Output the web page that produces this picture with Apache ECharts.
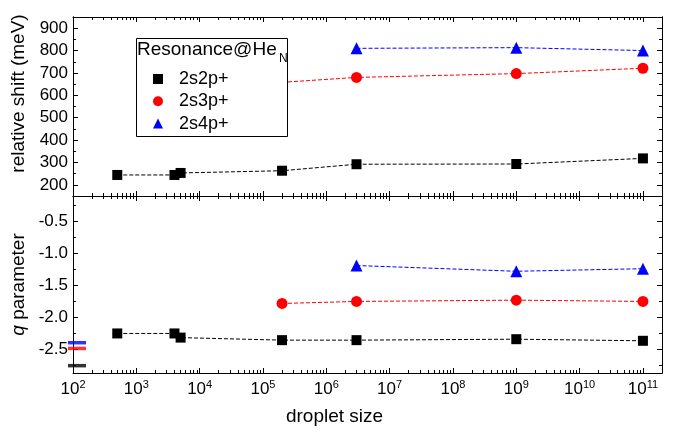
<!DOCTYPE html>
<html>
<head>
<meta charset="utf-8">
<script src="https://cdn.jsdelivr.net/npm/echarts@6/dist/echarts.min.js"></script>
<style>
  html, body { margin: 0; padding: 0; background: #fff; }
  #chart { width: 679px; height: 435px; }
</style>
</head>
<body>
<div id="chart"></div>
<script>
// droplet sizes and values
var sizes2p = [500, 4000, 5000, 2e5, 3e6, 1e9, 1e11]
var shift2p = [244, 244, 253, 263, 292, 293, 318]
var q2p = [-2.255, -2.255, -2.32, -2.36, -2.36, -2.345, -2.37]

var sizes3p = [2e5, 3e6, 1e9, 1e11]
var shift3p = [658, 680, 697, 721]
var q3p = [-1.785, -1.753, -1.733, -1.753]

var sizes4p = [3e6, 1e9, 1e11]
var shift4p = [810, 813, 800]
var q4p = [-1.19, -1.28, -1.24]

// atomic values, drawn as bars on the left edge (2s4p+, 2s3p+, 2s2p+)
var atomQ = [-2.40, -2.49, -2.76]

var names = ['2s2p+', '2s3p+', '2s4p+']
var colors = ['#000000', '#ff0000', '#0000ff']

// axis ticks
var xMin = 100
var xMax = 2e11
var shiftTicks = [200, 300, 400, 500, 600, 700, 800, 900]
var qTicks = [-2.5, -2.0, -1.5, -1.0, -0.5]

var font = 'Liberation Sans, Arial, sans-serif'

function pairs(xs, ys) {
  return xs.map(function(x, i) { return [x, ys[i]] })
}

// log-spaced minor ticks 2..9 x 10^n, in log10 units
var xMinor = []
for (var n = 2; n <= 11; n++) {
  for (var k = 2; k <= 9; k++) {
    var v = k * Math.pow(10, n)
    if (v < xMax) xMinor.push(Math.log10(v))
  }
}

function xMajor(grid, pos, labels) {
  var ax = {
    type: 'log', logBase: 10, gridIndex: grid, position: pos, min: xMin, max: xMax,
    axisLine: { show: true, onZero: false, lineStyle: { color: '#000', width: 1 } },
    axisTick: { show: true, inside: true, length: 5, lineStyle: { color: '#000' } },
    axisLabel: { show: false },
    splitLine: { show: false }
  }
  if (labels) {
    ax.axisLabel = {
      show: true, margin: 6, color: '#000', fontFamily: font, fontSize: 17,
      showMaxLabel: false,
      formatter: function(v) {
        return '10{sup|' + Math.round(Math.log10(v)) + '}'
      },
      rich: { sup: { fontSize: 11, fontFamily: font, color: '#000', padding: [0, 0, 9, 0] } }
    }
  }
  return ax
}

function xMinorAxis(grid, pos) {
  return {
    type: 'value', gridIndex: grid, position: pos, min: Math.log10(xMin), max: Math.log10(xMax),
    axisLine: { show: false, onZero: false },
    axisTick: { show: true, inside: true, length: 3, customValues: xMinor, lineStyle: { color: '#000' } },
    axisLabel: { show: false },
    splitLine: { show: false }
  }
}

function yAxisOf(grid, pos, min, max, ticks, len, labels, digits) {
  var ax = {
    type: 'value', gridIndex: grid, position: pos, min: min, max: max,
    axisLine: { show: true, onZero: false, lineStyle: { color: '#000', width: 1 } },
    axisTick: { show: true, inside: true, length: len, customValues: ticks, lineStyle: { color: '#000' } },
    axisLabel: { show: false },
    splitLine: { show: false }
  }
  if (labels) {
    ax.axisLabel = {
      show: true, margin: 5, color: '#000', fontFamily: font, fontSize: 17,
      customValues: ticks,
      formatter: function(v) { return v.toFixed(digits) }
    }
  }
  return ax
}

var shiftMinor = shiftTicks.map(function(t) { return t + 50 }).filter(function(t) { return t < 950 })
var qMinor = qTicks.map(function(t) { return t - 0.25 }).concat([-0.25])

var xAxes = [
  xMajor(0, 'bottom', false), xMajor(0, 'top', false),
  xMinorAxis(0, 'bottom'), xMinorAxis(0, 'top'),
  xMajor(1, 'bottom', true), xMajor(1, 'top', false),
  xMinorAxis(1, 'bottom'), xMinorAxis(1, 'top')
]
xAxes[4].name = 'droplet size'
xAxes[4].nameLocation = 'middle'
xAxes[4].nameGap = 34
xAxes[4].nameTextStyle = { fontFamily: font, fontSize: 19, color: '#000', padding: [0, 66, 0, 0] }

var yAxes = [
  yAxisOf(0, 'left', 150, 950, shiftTicks, 5, true, 0), yAxisOf(0, 'right', 150, 950, shiftTicks, 5, false),
  yAxisOf(0, 'left', 150, 950, shiftMinor, 3, false), yAxisOf(0, 'right', 150, 950, shiftMinor, 3, false),
  yAxisOf(1, 'left', -2.875, -0.1, qTicks, 5, true, 1), yAxisOf(1, 'right', -2.875, -0.1, qTicks, 5, false),
  yAxisOf(1, 'left', -2.875, -0.1, qMinor, 3, false), yAxisOf(1, 'right', -2.875, -0.1, qMinor, 3, false)
]
yAxes[0].name = 'relative shift (meV)'
yAxes[0].nameLocation = 'middle'
yAxes[0].nameGap = 39
yAxes[0].nameTextStyle = { fontFamily: font, fontSize: 19, color: '#000', padding: [0, 0, 0, 26] }
yAxes[4].name = '{i|q} parameter'
yAxes[4].nameLocation = 'middle'
yAxes[4].nameGap = 39
yAxes[4].nameTextStyle = {
  fontFamily: font, fontSize: 19, color: '#000',
  rich: { i: { fontFamily: font, fontSize: 19, fontStyle: 'italic', color: '#000' } }
}

var symbols = ['rect', 'circle', 'triangle']
var symSizes = [10, 11, 12]

function lineSeries(i, grid, xs, ys) {
  return {
    name: names[i], type: 'line', xAxisIndex: grid * 4, yAxisIndex: grid * 4,
    data: pairs(xs, ys),
    symbol: symbols[i], symbolSize: symSizes[i], showAllSymbol: true,
    itemStyle: { color: colors[i] },
    lineStyle: { color: colors[i], width: 1, type: [4, 2] },
    z: 2
  }
}

var series = [
  lineSeries(0, 0, sizes2p, shift2p),
  lineSeries(1, 0, sizes3p, shift3p),
  lineSeries(2, 0, sizes4p, shift4p),
  lineSeries(0, 1, sizes2p, q2p),
  lineSeries(1, 1, sizes3p, q3p),
  lineSeries(2, 1, sizes4p, q4p),
  {
    name: 'atomic', type: 'scatter', xAxisIndex: 4, yAxisIndex: 4, clip: false,
    symbol: 'rect', symbolSize: [18, 3.5], symbolOffset: [4, 0],
    data: atomQ.map(function(q, i) {
      return { value: [xMin, q], itemStyle: { color: [colors[2], colors[1], colors[0]][i] } }
    }),
    z: 3
  }
]

var chart = echarts.init(document.getElementById('chart'))
chart.setOption({
  animation: false,
  backgroundColor: '#fff',
  grid: [
    { left: 73, right: 17, top: 17, height: 179 },
    { left: 73, right: 17, top: 196, height: 177 }
  ],
  xAxis: xAxes,
  yAxis: yAxes,
  legend: {
    data: [
      { name: names[0], icon: 'rect' },
      { name: names[1], icon: 'circle' },
      { name: names[2], icon: 'triangle' }
    ],
    orient: 'vertical', left: 153, top: 68, padding: 0,
    itemWidth: 10, itemHeight: 10, itemGap: 0.3,
    selectedMode: false, z: 100,
    textStyle: { fontFamily: font, fontSize: 18, color: '#000', lineHeight: 22, padding: [0, 0, 0, 11] }
  },
  graphic: [
    {
      type: 'rect', z: 50, shape: { x: 136.5, y: 38.5, width: 151, height: 98 },
      style: { fill: '#fff', stroke: '#000', lineWidth: 1 }
    },
    {
      type: 'text', z: 51, x: 137, y: 50,
      style: { text: 'Resonance@He', fontFamily: font, fontSize: 19, fill: '#000', verticalAlign: 'middle' }
    },
    {
      type: 'text', z: 51, x: 279, y: 59,
      style: { text: 'N', fontFamily: font, fontSize: 12, fill: '#000', verticalAlign: 'middle' }
    }
  ],
  series: series
})
</script>
</body>
</html>
